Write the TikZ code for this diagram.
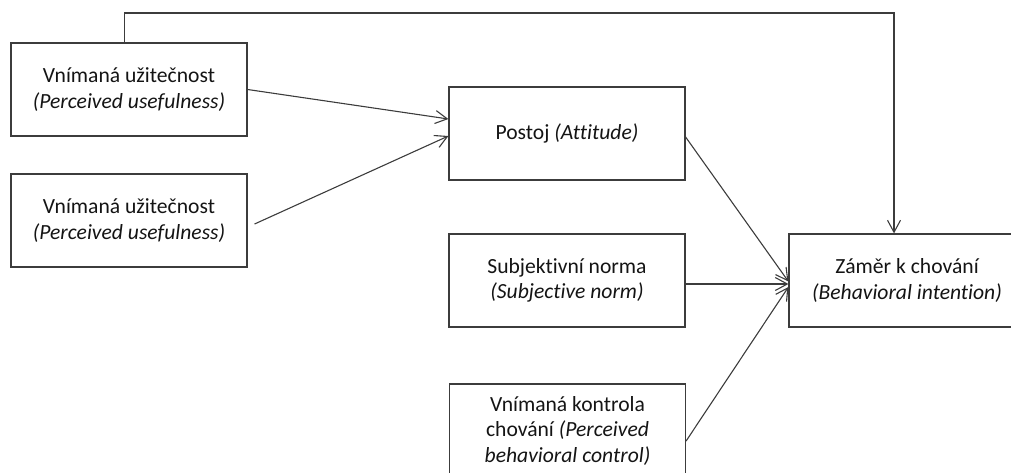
\documentclass[tikz,border=0pt]{standalone}
\usepackage{fontspec}
\setmainfont{Carlito}[Ligatures={NoCommon}]
\usetikzlibrary{arrows.meta}
\definecolor{linegray}{HTML}{3C3C3C}
\definecolor{textblack}{HTML}{141414}
\begin{document}
\begin{tikzpicture}[x=1pt,y=-1pt,
  box/.style={draw=linegray, line width=1.2pt, rectangle,
    minimum width=236pt, minimum height=93pt, inner sep=0pt,
    align=center, text=textblack,
    font=\fontsize{21.6pt}{25.5pt}\selectfont},
  link/.style={draw=linegray, line width=1.1pt,
    -{Straight Barb[length=12pt,width=13pt,line width=1.1pt]}}]
  \useasboundingbox (0,0) rectangle (1011,473);
  % input factors
  \node[box] (pu1) at (129,89.5) {Vnímaná užitečnost\\\textit{(Perceived usefulness)}};
  \node[box] (pu2) at (129,220.5) {Vnímaná užitečnost\\\textit{(Perceived usefulness)}};
  % middle column
  \node[box] (att) at (567,133.5) {Postoj \textit{(Attitude)}};
  \node[box] (sn) at (567,280.5) {Subjektivní norma\\\textit{(Subjective norm)}};
  \node[box] (pbc) at (567.5,430.5) {Vnímaná kontrola\\chování \textit{(Perceived}\\\textit{behavioral control)}};
  % outcome
  \node[box] (bi) at (907,280.5) {Záměr k chování\\\textit{(Behavioral intention)}};
  % connectors
  \coordinate (topleft) at ([xshift=-4.5pt]pu1.north |- 0,13);
  \coordinate (topright) at ([xshift=-13pt]bi.north |- 0,13);
  \draw[link] ([xshift=-4.5pt]pu1.north) -- (topleft) -- (topright) -- ([xshift=-13pt]bi.north);
  \draw[link] (pu1.east) -- ([yshift=14.5pt]att.west);
  \draw[link] ([xshift=7pt,yshift=-3.5pt]pu2.east) -- ([yshift=-2.5pt]att.west);
  \draw[link] ([yshift=-3.5pt]att.east) -- ([yshift=-1pt]bi.west);
  \draw[link] ([yshift=-3.5pt]sn.east) -- ([yshift=-3.5pt]bi.west);
  \draw[link] ([yshift=-10.5pt]pbc.east) -- ([yshift=-6.5pt]bi.west);
\end{tikzpicture}
\end{document}
